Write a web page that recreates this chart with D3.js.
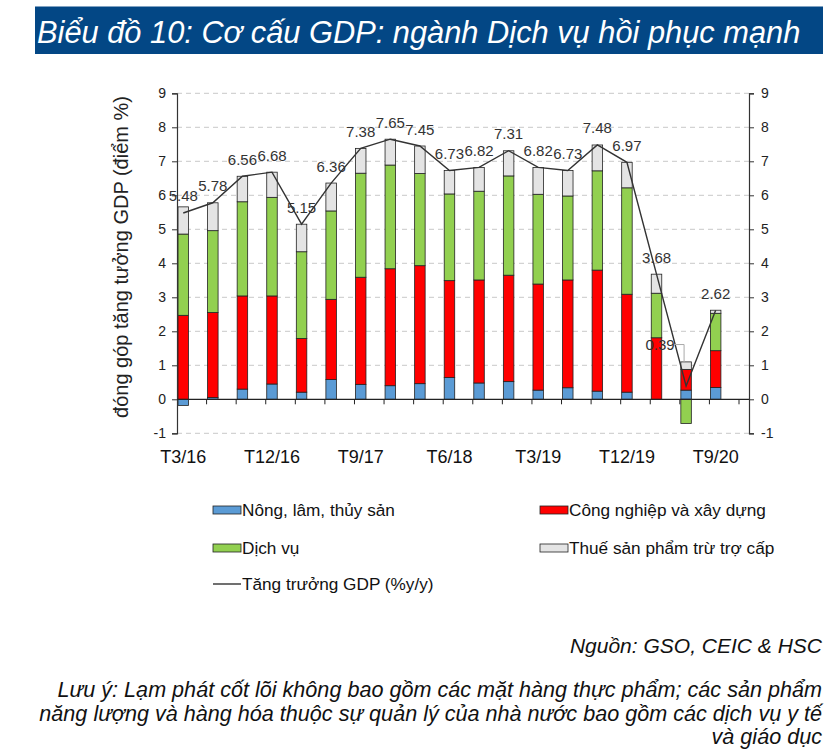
<!DOCTYPE html>
<html>
<head>
<meta charset="utf-8">
<script src="https://cdn.jsdelivr.net/npm/d3@7/dist/d3.min.js"></script>
<style>
  html, body { margin: 0; padding: 0; background: #fff; }
  svg { display: block; font-family: "Liberation Sans", Arial, sans-serif; }
</style>
</head>
<body>
<svg id="chart" width="830" height="755"></svg>
<script>
// ---------------- DATA ----------------
const categories = ["T3/16","T6/16","T9/16","T12/16","T3/17","T6/17","T9/17","T12/17","T3/18","T6/18","T9/18","T12/18","T3/19","T6/19","T9/19","T12/19","T3/20","T6/20","T9/20"];
const tickLabels = ["T3/16","T12/16","T9/17","T6/18","T3/19","T12/19","T9/20"];
const agriculture = [-0.18, 0.05, 0.30, 0.45, 0.21, 0.58, 0.44, 0.40, 0.46, 0.64, 0.48, 0.52, 0.27, 0.34, 0.24, 0.21, 0.00, 0.27, 0.35];
const industry    = [2.47, 2.50, 2.74, 2.59, 1.58, 2.36, 3.15, 3.44, 3.47, 2.85, 3.03, 3.13, 3.12, 3.17, 3.56, 2.88, 1.81, 0.61, 1.08];
const services    = [2.39, 2.41, 2.77, 2.90, 2.55, 2.60, 3.06, 3.05, 2.71, 2.55, 2.61, 2.92, 2.64, 2.47, 2.92, 3.13, 1.31, -0.71, 1.10];
const taxes       = [0.80, 0.82, 0.75, 0.74, 0.81, 0.82, 0.73, 0.76, 0.81, 0.69, 0.70, 0.74, 0.79, 0.75, 0.76, 0.75, 0.56, 0.22, 0.09];
const gdpGrowth   = [5.48, 5.78, 6.56, 6.68, 5.15, 6.36, 7.38, 7.65, 7.45, 6.73, 6.82, 7.31, 6.82, 6.73, 7.48, 6.97, 3.68, 0.39, 2.62];
const yTicks = [-1, 0, 1, 2, 3, 4, 5, 6, 7, 8, 9];
const seriesNames = ["Nông, lâm, thủy sản", "Công nghiệp và xây dựng", "Dịch vụ", "Thuế sản phẩm trừ trợ cấp"];
const lineName = "Tăng trưởng GDP (%y/y)";
const titleText = "Biểu đồ 10: Cơ cấu GDP: ngành Dịch vụ hồi phục mạnh";
const yTitle = "đóng góp tăng tưởng GDP (điểm %)";
const sourceText = "Nguồn: GSO, CEIC & HSC";
const noteLines = [
  "Lưu ý: Lạm phát cốt lõi không bao gồm các mặt hàng thực phẩm; các sản phẩm",
  "năng lượng và hàng hóa thuộc sự quản lý của nhà nước bao gồm các dịch vụ y tế",
  "và giáo dục"
];

// ---------------- STYLE / LAYOUT ----------------
const colors = ["#5b9bd5", "#ff0000", "#92d050", "#e4e4e4"];
const svg = d3.select("#chart");
const L = 177, R = 749, bandEnd = 739;

const x = d3.scaleBand().domain(categories).range([L, bandEnd]).paddingInner(0).paddingOuter(0);
const y = d3.scaleLinear().domain([-1, 9]).range([433.3, 93.3]);
const barOff = 1, barW = 10.5;
const cx = c => x(c) + barOff + barW / 2;

// Title box
svg.append("rect").attr("x", 35).attr("y", 6.5).attr("width", 788).attr("height", 47.5).attr("fill", "#034785");
svg.append("text").attr("x", 37).attr("y", 43).attr("fill", "#fff")
  .attr("font-size", 30.8).attr("font-style", "italic").text(titleText);

// Gridlines
svg.append("g").selectAll("line").data(yTicks.filter(v => v !== 0)).join("line")
  .attr("x1", L).attr("x2", R).attr("y1", d => y(d)).attr("y2", d => y(d))
  .attr("stroke", "#c9c9c9").attr("stroke-width", 1).attr("stroke-dasharray", "5,4");

// Stacked bars
const rows = categories.map((c, i) => ({cat: c, s0: agriculture[i], s1: industry[i], s2: services[i], s3: taxes[i]}));
const stack = d3.stack().keys(["s0","s1","s2","s3"]).offset(d3.stackOffsetDiverging);
const stacked = stack(rows);
svg.append("g").selectAll("g").data(stacked).join("g")
  .attr("fill", (d, i) => colors[i])
  .selectAll("rect").data(d => d).join("rect")
  .attr("x", d => x(d.data.cat) + barOff)
  .attr("width", barW)
  .attr("y", d => y(Math.max(d[0], d[1])))
  .attr("height", d => Math.abs(y(d[0]) - y(d[1])))
  .attr("stroke", "#222").attr("stroke-width", 0.8);

const fmtTick = d => String(d);

// Left axis
const leftAxis = d3.axisLeft(y).tickValues(yTicks).tickSize(5).tickPadding(6).tickFormat(fmtTick);
const gl = svg.append("g").attr("transform", `translate(${L},0)`).call(leftAxis);
gl.select(".domain").attr("stroke", "#333").attr("stroke-width", 1.2);
gl.selectAll(".tick line").attr("stroke", "#333");
gl.selectAll(".tick text").attr("font-size", 14).attr("fill", "#222").attr("font-family", "Liberation Sans, Arial, sans-serif");

// Right axis
const rightAxis = d3.axisRight(y).tickValues(yTicks).tickSize(5).tickPadding(7).tickFormat(fmtTick);
const gr = svg.append("g").attr("transform", `translate(${R},0)`).call(rightAxis);
gr.select(".domain").attr("stroke", "#333").attr("stroke-width", 1.2);
gr.selectAll(".tick line").attr("stroke", "#333");
gr.selectAll(".tick text").attr("font-size", 14).attr("fill", "#222").attr("font-family", "Liberation Sans, Arial, sans-serif");

// Zero line with category boundary ticks
svg.append("line").attr("x1", L).attr("x2", R).attr("y1", y(0)).attr("y2", y(0))
  .attr("stroke", "#222").attr("stroke-width", 1.2);
svg.append("g").selectAll("line").data(categories).join("line")
  .attr("x1", d => x(d) + x.bandwidth())
  .attr("x2", d => x(d) + x.bandwidth())
  .attr("y1", y(0)).attr("y2", y(0) + 5)
  .attr("stroke", "#222").attr("stroke-width", 1);

// Category labels
svg.append("g").selectAll("text").data(tickLabels).join("text")
  .attr("x", d => cx(d)).attr("y", 463)
  .attr("text-anchor", "middle").attr("font-size", 18).attr("fill", "#111").text(d => d);

// GDP line
const line = d3.line().x((d, i) => cx(categories[i])).y(d => y(d));
svg.append("path").datum(gdpGrowth).attr("d", line)
  .attr("fill", "none").attr("stroke", "#333").attr("stroke-width", 1.4);

// Data labels
const labelOffset = { 17: [-26, -25] };
svg.append("g").selectAll("text").data(gdpGrowth).join("text")
  .attr("x", (d, i) => cx(categories[i]) + (labelOffset[i] ? labelOffset[i][0] : 0))
  .attr("y", (d, i) => y(d) - 11.5 + (labelOffset[i] ? labelOffset[i][1] : 0))
  .attr("text-anchor", "middle").attr("font-size", 15).attr("fill", "#333")
  .text(d => d3.format(".2f")(d));
// leader line for the moved label
{
  const i = 17, px = cx(categories[i]);
  const ly = y(gdpGrowth[i]) - 11.5 + labelOffset[i][1];
  svg.append("path")
    .attr("d", `M${px - 12},${ly - 5} H${px - 2} V${y(gdpGrowth[i]) - 24}`)
    .attr("fill", "none").attr("stroke", "#aaa").attr("stroke-width", 1);
}

// Y axis title
svg.append("text").attr("transform", "translate(121,257) rotate(-90)")
  .attr("text-anchor", "middle").attr("dominant-baseline", "central")
  .attr("font-size", 20).attr("fill", "#222").text(yTitle);

// Legend
const legendItems = [
  {name: seriesNames[0], color: colors[0], x: 213, y: 510},
  {name: seriesNames[1], color: colors[1], x: 540, y: 510},
  {name: seriesNames[2], color: colors[2], x: 213, y: 548},
  {name: seriesNames[3], color: colors[3], x: 540, y: 548}
];
const lg = svg.append("g");
legendItems.forEach(it => {
  lg.append("rect").attr("x", it.x).attr("y", it.y - 4).attr("width", 28).attr("height", 8)
    .attr("fill", it.color).attr("stroke", "#222").attr("stroke-width", 0.8);
  lg.append("text").attr("x", it.x + 29).attr("y", it.y + 6).attr("font-size", 17.2).attr("fill", "#111").text(it.name);
});
lg.append("line").attr("x1", 213).attr("x2", 241).attr("y1", 584).attr("y2", 584).attr("stroke", "#333").attr("stroke-width", 1.4);
lg.append("text").attr("x", 242).attr("y", 590).attr("font-size", 17.2).attr("fill", "#111").text(lineName);

// Source & note
svg.append("text").attr("x", 822).attr("y", 653).attr("text-anchor", "end")
  .attr("font-size", 21).attr("font-style", "italic").attr("fill", "#111").text(sourceText);
svg.append("g").selectAll("text").data(noteLines).join("text")
  .attr("x", 822).attr("y", (d, i) => 697 + i * 23.5).attr("text-anchor", "end")
  .attr("font-size", 21.6).attr("font-style", "italic").attr("fill", "#111").text(d => d);
</script>
</body>
</html>
